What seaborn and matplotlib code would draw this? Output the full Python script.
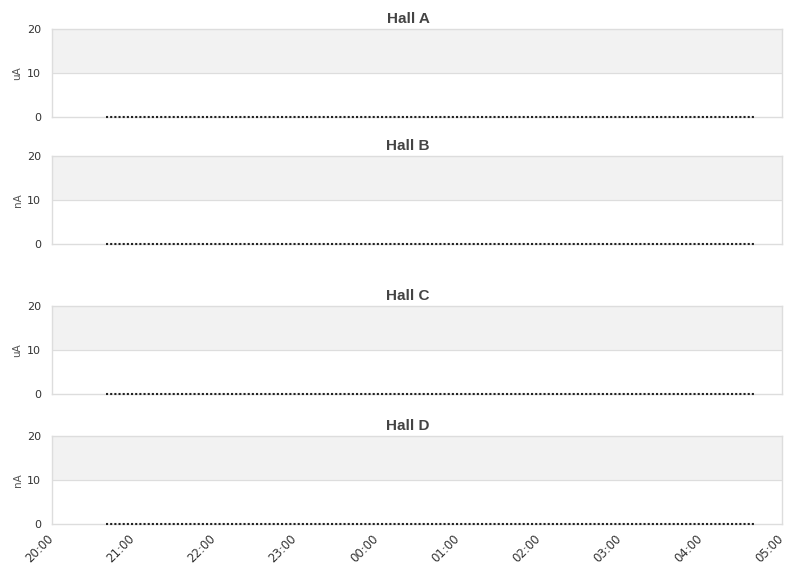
import numpy as np
import pandas as pd
import seaborn as sns
import matplotlib.pyplot as plt
import matplotlib.dates as mdates
from matplotlib.transforms import ScaledTranslation

sns.set_theme(style="white")
plt.rcParams['font.family'] = ['DejaVu Sans']

# data: every hall reads zero over the whole window
halls = ["Hall A", "Hall B", "Hall C", "Hall D"]
units = ["uA", "nA", "uA", "nA"]
y_ticks = [0, 10, 20]
start, stop = "2024-01-01 20:40", "2024-01-02 04:40"
times = pd.date_range(start, stop, freq="2min")
currents = {h: [0.0] * len(times) for h in halls}

x_min = pd.Timestamp("2024-01-01 20:00")
x_max = pd.Timestamp("2024-01-02 05:00")

fig = plt.figure(figsize=(8.11, 5.78), dpi=100)
# axes boxes (left, bottom, width, height) in figure fractions
boxes = [
    (0.0641, 0.7976, 0.9001, 0.1522),
    (0.0641, 0.5779, 0.9001, 0.1522),
    (0.0641, 0.3183, 0.9001, 0.1522),
    (0.0641, 0.0934, 0.9001, 0.1522),
]

for i, (hall, unit, box) in enumerate(zip(halls, units, boxes)):
    ax = fig.add_axes(box)
    df = pd.DataFrame({"time": times, "value": currents[hall]})
    ax.axhspan(10, 20, color="#f2f2f2", zorder=0)
    ax.axhline(10, color="#dddddd", lw=0.8, zorder=1)
    sns.lineplot(data=df, x="time", y="value", ax=ax, color="#222222",
                 lw=1.5, linestyle=(0, (1, 1)), zorder=3, clip_on=False)
    ax.set_xlim(x_min, x_max)
    ax.set_ylim(0, 20)
    ax.set_yticks(y_ticks)
    ax.set_title(hall, fontsize=11, fontweight="bold", color="#444444",
                 family=["Liberation Sans", "DejaVu Sans"], x=0.4877, pad=4)
    ax.set_ylabel(unit, fontsize=7.5, color="#555555", labelpad=3)
    ax.set_xlabel("")
    ax.tick_params(axis="both", length=0, labelsize=8, colors="#333333", pad=8)
    ax.xaxis.set_major_locator(mdates.HourLocator())
    ax.xaxis.set_major_formatter(mdates.DateFormatter("%H:%M"))
    for s in ax.spines.values():
        s.set_color("#dddddd")
        s.set_linewidth(1)
    if i < 3:
        ax.set_xticklabels([])
    else:
        ax.tick_params(axis="x", labelsize=8.5, pad=6)
        shift = ScaledTranslation(-5 / 100, 0, fig.dpi_scale_trans)
        for lab in ax.get_xticklabels():
            lab.set_rotation(45)
            lab.set_ha("right")
            lab.set_rotation_mode("anchor")
            lab.set_transform(lab.get_transform() + shift)

fig.savefig("out.png", dpi=100)
